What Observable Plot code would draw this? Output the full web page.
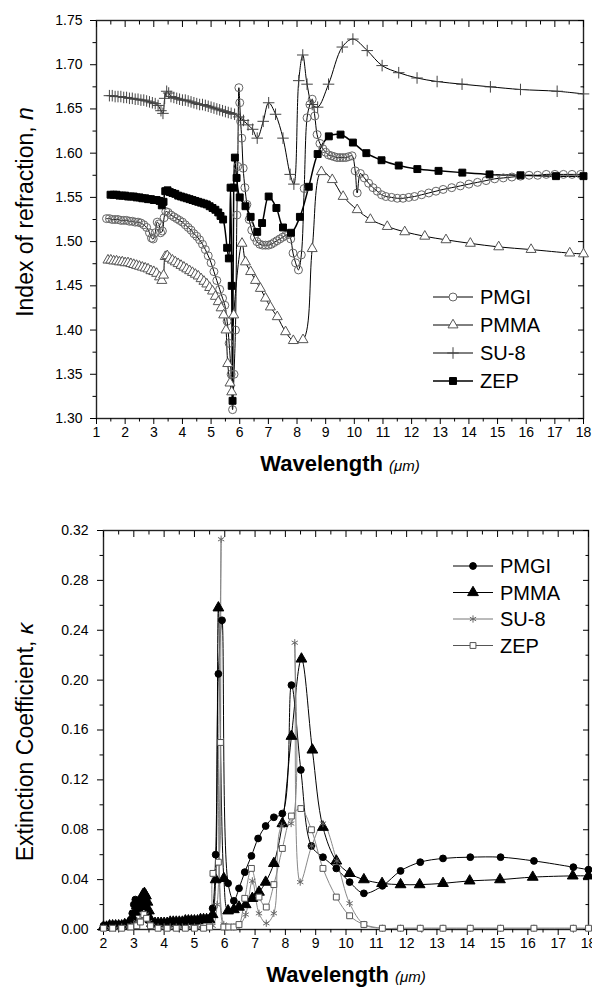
<!DOCTYPE html>
<html><head><meta charset="utf-8">
<script src="https://cdn.jsdelivr.net/npm/d3@7"></script>
<script src="https://cdn.jsdelivr.net/npm/@observablehq/plot@0.6"></script>
<style>
body{margin:0;background:#fff;}
#wrap{width:592px;}
#wrap svg{display:block;}
</style></head><body><div id="wrap"></div>
<script>
// ---------- TOP CHART: index of refraction n vs wavelength (um) ----------
const topPMGI = [[1.35,1.526],[1.45,1.526],[1.55,1.525],[1.65,1.525],[1.75,1.525],[1.85,1.524],[1.95,1.524],[2.05,1.524],[2.15,1.523],[2.25,1.523],[2.35,1.522],[2.45,1.522],[2.55,1.521],[2.65,1.519],[2.75,1.516],[2.85,1.510],[2.92,1.504],[2.98,1.503],[3.05,1.510],[3.12,1.522],[3.18,1.520],[3.24,1.510],[3.30,1.512],[3.36,1.527],[3.42,1.534],[3.50,1.533],[3.60,1.530],[3.70,1.528],[3.80,1.526],[3.90,1.524],[4.00,1.522],[4.10,1.519],[4.20,1.516],[4.30,1.513],[4.40,1.509],[4.50,1.506],[4.60,1.502],[4.70,1.497],[4.80,1.491],[4.90,1.484],[5.00,1.476],[5.10,1.466],[5.20,1.456],[5.30,1.446],[5.40,1.436],[5.48,1.428],[5.56,1.410],[5.63,1.385],[5.70,1.350],[5.75,1.310],[5.80,1.350],[5.85,1.400],[5.90,1.530],[5.93,1.585],[5.97,1.674],[6.00,1.657],[6.03,1.636],[6.07,1.617],[6.12,1.583],[6.18,1.561],[6.25,1.542],[6.33,1.525],[6.42,1.513],[6.51,1.505],[6.60,1.500],[6.70,1.497],[6.80,1.496],[6.90,1.496],[7.00,1.496],[7.10,1.497],[7.20,1.499],[7.30,1.501],[7.40,1.503],[7.50,1.505],[7.60,1.507],[7.70,1.508],[7.78,1.503],[7.86,1.487],[7.95,1.476],[8.05,1.468],[8.15,1.485],[8.25,1.560],[8.35,1.640],[8.45,1.655],[8.53,1.661],[8.62,1.642],[8.70,1.621],[8.80,1.611],[8.90,1.605],[9.00,1.601],[9.10,1.598],[9.20,1.597],[9.30,1.596],[9.40,1.595],[9.50,1.595],[9.60,1.595],[9.70,1.595],[9.80,1.596],[9.92,1.597],[10.03,1.580],[10.10,1.555],[10.21,1.577],[10.35,1.572],[10.50,1.566],[10.65,1.561],[10.80,1.557],[10.95,1.553],[11.10,1.551],[11.30,1.550],[11.50,1.549],[11.70,1.549],[11.90,1.550],[12.10,1.551],[12.35,1.553],[12.60,1.555],[12.85,1.557],[13.10,1.559],[13.40,1.561],[13.70,1.563],[14.00,1.565],[14.30,1.567],[14.60,1.569],[14.90,1.571],[15.20,1.572],[15.50,1.573],[15.80,1.574],[16.10,1.575],[16.40,1.575],[16.70,1.576],[17.00,1.576],[17.30,1.576],[17.60,1.576],[17.90,1.576]];

const topPMMA = [[1.40,1.479],[1.50,1.479],[1.60,1.478],[1.70,1.478],[1.80,1.477],[1.90,1.477],[2.00,1.476],[2.10,1.476],[2.20,1.475],[2.30,1.474],[2.40,1.473],[2.50,1.472],[2.60,1.471],[2.70,1.470],[2.80,1.469],[2.90,1.467],[3.00,1.466],[3.10,1.464],[3.20,1.460],[3.28,1.456],[3.34,1.462],[3.40,1.483],[3.47,1.484],[3.55,1.481],[3.65,1.479],[3.75,1.477],[3.85,1.475],[3.95,1.473],[4.05,1.471],[4.15,1.469],[4.25,1.467],[4.35,1.465],[4.45,1.463],[4.55,1.461],[4.65,1.458],[4.75,1.455],[4.85,1.452],[4.95,1.448],[5.05,1.444],[5.15,1.438],[5.25,1.432],[5.35,1.425],[5.44,1.417],[5.52,1.400],[5.58,1.362],[5.66,1.340],[5.72,1.330],[5.79,1.417],[6.08,1.498],[6.20,1.477],[6.38,1.466],[6.55,1.456],[6.72,1.447],[6.90,1.436],[7.07,1.426],[7.31,1.415],[7.60,1.398],[7.87,1.388],[8.21,1.389],[8.53,1.492],[8.85,1.579],[9.23,1.570],[9.61,1.551],[10.10,1.536],[10.56,1.525],[11.15,1.517],[11.76,1.511],[12.46,1.506],[13.20,1.502],[14.05,1.498],[15.04,1.494],[16.17,1.491],[17.52,1.487],[18.00,1.486]];

const topSU8 = [[1.45,1.665],[1.55,1.665],[1.65,1.664],[1.75,1.664],[1.85,1.664],[1.95,1.663],[2.05,1.663],[2.15,1.662],[2.25,1.662],[2.35,1.661],[2.45,1.661],[2.55,1.660],[2.65,1.660],[2.75,1.659],[2.85,1.658],[2.95,1.657],[3.05,1.656],[3.15,1.654],[3.25,1.648],[3.32,1.645],[3.38,1.662],[3.45,1.670],[3.52,1.668],[3.60,1.664],[3.70,1.663],[3.80,1.662],[3.90,1.661],[4.00,1.660],[4.10,1.660],[4.20,1.659],[4.30,1.658],[4.40,1.657],[4.50,1.656],[4.60,1.655],[4.70,1.655],[4.80,1.654],[4.90,1.653],[5.00,1.652],[5.10,1.651],[5.20,1.650],[5.30,1.649],[5.40,1.648],[5.50,1.647],[5.60,1.646],[5.70,1.645],[5.82,1.644],[5.97,1.641],[6.13,1.637],[6.29,1.632],[6.45,1.627],[6.61,1.617],[6.82,1.636],[7.01,1.657],[7.25,1.644],[7.51,1.617],[7.76,1.576],[7.89,1.565],[8.06,1.682],[8.20,1.711],[8.35,1.678],[8.53,1.655],[8.72,1.652],[9.10,1.678],[9.58,1.720],[9.95,1.729],[10.45,1.716],[10.97,1.699],[11.55,1.691],[12.19,1.685],[12.89,1.681],[13.76,1.678],[14.75,1.675],[15.80,1.672],[17.08,1.670],[18.00,1.667]];

const topZEP = [[1.49,1.553],[1.60,1.553],[1.70,1.553],[1.80,1.552],[1.90,1.552],[2.00,1.552],[2.10,1.551],[2.20,1.551],[2.30,1.551],[2.40,1.550],[2.50,1.550],[2.60,1.549],[2.70,1.549],[2.80,1.548],[2.90,1.548],[3.00,1.547],[3.10,1.547],[3.20,1.546],[3.28,1.541],[3.34,1.545],[3.40,1.557],[3.48,1.558],[3.56,1.556],[3.65,1.555],[3.75,1.554],[3.85,1.552],[3.95,1.551],[4.05,1.550],[4.15,1.549],[4.25,1.548],[4.35,1.547],[4.45,1.546],[4.55,1.545],[4.65,1.544],[4.75,1.543],[4.85,1.542],[4.95,1.540],[5.05,1.538],[5.15,1.536],[5.25,1.533],[5.33,1.529],[5.42,1.525],[5.56,1.493],[5.62,1.481],[5.68,1.561],[5.72,1.450],[5.75,1.320],[5.79,1.561],[5.83,1.595],[5.89,1.572],[6.00,1.550],[6.20,1.540],[6.38,1.528],[6.61,1.511],[6.78,1.521],[7.01,1.551],[7.28,1.538],[7.51,1.516],[7.79,1.510],[8.10,1.528],[8.41,1.562],[8.72,1.599],[9.11,1.619],[9.52,1.621],[9.95,1.612],[10.42,1.600],[10.95,1.592],[11.55,1.586],[12.20,1.582],[12.94,1.580],[13.77,1.578],[14.72,1.576],[15.80,1.575],[17.04,1.574],[18.00,1.574]];

const topXTicks = [1,2,3,4,5,6,7,8,9,10,11,12,13,14,15,16,17,18];
const topXMinor = [1.5,2.5,3.5,4.5,5.5,6.5,7.5,8.5,9.5,10.5,11.5,12.5,13.5,14.5,15.5,16.5,17.5];
const topYTicks = [1.30,1.35,1.40,1.45,1.50,1.55,1.60,1.65,1.70,1.75];
const topYMinor = [1.325,1.375,1.425,1.475,1.525,1.575,1.625,1.675,1.725];

// ---------- BOTTOM CHART: extinction coefficient kappa ----------
const botPMGI = [[2.0,0.003],[2.1,0.003],[2.2,0.003],[2.3,0.003],[2.4,0.004],[2.5,0.004],[2.6,0.004],[2.7,0.004],[2.8,0.005],[2.9,0.008],[2.95,0.013],[3.0,0.020],[3.05,0.024],[3.1,0.022],[3.15,0.019],[3.2,0.017],[3.25,0.018],[3.3,0.020],[3.35,0.021],[3.4,0.018],[3.45,0.012],[3.5,0.007],[3.6,0.005],[3.7,0.005],[3.8,0.005],[3.9,0.005],[4.0,0.005],[4.1,0.005],[4.2,0.005],[4.3,0.006],[4.4,0.006],[4.5,0.006],[4.6,0.006],[4.7,0.006],[4.8,0.007],[4.9,0.007],[5.0,0.007],[5.1,0.007],[5.2,0.008],[5.3,0.008],[5.4,0.008],[5.5,0.009],[5.6,0.017],[5.7,0.060],[5.79,0.205],[5.91,0.248],[6.11,0.037],[6.30,0.023],[6.47,0.033],[6.66,0.046],[6.88,0.059],[7.10,0.073],[7.35,0.083],[7.62,0.090],[7.90,0.093],[8.20,0.196],[8.51,0.128],[8.86,0.067],[9.24,0.058],[9.68,0.049],[10.12,0.038],[10.59,0.029],[11.20,0.035],[11.80,0.047],[12.45,0.054],[13.20,0.057],[14.10,0.058],[15.10,0.058],[16.20,0.055],[17.50,0.050],[18.00,0.048]];

const botPMMA = [[2.0,0.002],[2.1,0.002],[2.2,0.003],[2.3,0.003],[2.4,0.003],[2.5,0.003],[2.6,0.003],[2.7,0.004],[2.8,0.004],[2.9,0.005],[3.0,0.008],[3.05,0.014],[3.1,0.019],[3.15,0.020],[3.2,0.022],[3.25,0.025],[3.3,0.028],[3.35,0.029],[3.4,0.027],[3.45,0.022],[3.5,0.015],[3.55,0.008],[3.6,0.005],[3.7,0.005],[3.8,0.005],[3.9,0.005],[4.0,0.005],[4.1,0.005],[4.2,0.006],[4.3,0.006],[4.4,0.006],[4.5,0.006],[4.6,0.006],[4.7,0.007],[4.8,0.007],[4.9,0.007],[5.0,0.007],[5.1,0.007],[5.2,0.008],[5.3,0.008],[5.4,0.008],[5.5,0.008],[5.6,0.012],[5.7,0.040],[5.79,0.258],[5.97,0.041],[6.11,0.015],[6.30,0.016],[6.47,0.018],[6.69,0.020],[6.91,0.025],[7.13,0.030],[7.35,0.038],[7.62,0.053],[7.90,0.085],[8.20,0.155],[8.53,0.217],[8.89,0.144],[9.24,0.082],[9.68,0.055],[10.12,0.045],[10.59,0.040],[11.19,0.037],[11.80,0.036],[12.43,0.036],[13.20,0.037],[14.08,0.039],[15.08,0.040],[16.16,0.042],[17.48,0.043],[18.00,0.043]];

const botSU8 = [[2.0,0.001],[2.2,0.001],[2.4,0.001],[2.6,0.002],[2.8,0.002],[3.0,0.004],[3.1,0.006],[3.2,0.008],[3.3,0.010],[3.4,0.012],[3.5,0.006],[3.6,0.003],[3.8,0.002],[4.0,0.002],[4.2,0.002],[4.4,0.002],[4.6,0.002],[4.8,0.002],[5.0,0.002],[5.2,0.002],[5.4,0.002],[5.6,0.003],[5.75,0.020],[5.88,0.313],[5.97,0.004],[6.10,0.002],[6.30,0.002],[6.47,0.003],[6.69,0.012],[6.91,0.039],[7.13,0.013],[7.37,0.005],[7.62,0.013],[7.88,0.083],[8.19,0.085],[8.31,0.230],[8.49,0.038],[8.87,0.067],[9.24,0.085],[9.70,0.055],[10.12,0.021],[10.60,0.004],[11.20,0.001],[11.80,0.001],[12.45,0.001],[13.20,0.001],[14.10,0.001],[15.10,0.001],[16.20,0.001],[17.50,0.001],[18.00,0.001]];

const botZEP = [[2.0,0.001],[2.3,0.001],[2.6,0.001],[2.9,0.002],[3.1,0.003],[3.22,0.006],[3.33,0.012],[3.42,0.009],[3.55,0.003],[3.8,0.001],[4.1,0.001],[4.4,0.001],[4.7,0.001],[5.0,0.001],[5.3,0.001],[5.5,0.002],[5.61,0.045],[5.79,0.054],[5.86,0.150],[5.97,0.002],[6.13,0.002],[6.30,0.002],[6.47,0.004],[6.66,0.025],[6.88,0.049],[7.13,0.026],[7.37,0.018],[7.62,0.036],[7.90,0.065],[8.20,0.091],[8.51,0.097],[8.86,0.080],[9.24,0.049],[9.68,0.026],[10.12,0.011],[10.59,0.004],[11.20,0.001],[11.80,0.001],[12.45,0.001],[13.20,0.001],[14.10,0.001],[15.10,0.001],[16.20,0.001],[17.50,0.001],[18.00,0.001]];

const botXTicks = [2,3,4,5,6,7,8,9,10,11,12,13,14,15,16,17,18];
const botXMinor = [2.5,3.5,4.5,5.5,6.5,7.5,8.5,9.5,10.5,11.5,12.5,13.5,14.5,15.5,16.5,17.5];
const botYTicks = [0.00,0.04,0.08,0.12,0.16,0.20,0.24,0.28,0.32];
const botYMinor = [0.02,0.06,0.10,0.14,0.18,0.22,0.26,0.30];

const seriesNames = ["PMGI","PMMA","SU-8","ZEP"];

// ---------- helpers ----------
const FONT = '"Liberation Sans", Arial, Helvetica, sans-serif';
const rows = a => a.map(([x, y]) => ({x, y}));

function frameAxes(xMaj, xMin, yMaj, yMin, yFmt, padY) {
  return [
    Plot.frame({stroke: "#222", strokeWidth: 1.4}),
    Plot.axisX({ticks: xMaj, tickSize: 6, tickPadding: 3, tickFormat: d => String(d), label: null, fontSize: 14}),
    Plot.axisX({ticks: xMin, tickSize: 3.5, fill: "none", label: null}),
    Plot.axisX({anchor: "top", ticks: xMaj, tickSize: 6, dy: 6, fill: "none", label: null}),
    Plot.axisX({anchor: "top", ticks: xMin, tickSize: 3.5, dy: 3.5, fill: "none", label: null}),
    Plot.axisY({ticks: yMaj, tickSize: 6, tickPadding: padY, tickFormat: yFmt, label: null, fontSize: 14}),
    Plot.axisY({ticks: yMin, tickSize: 3.5, fill: "none", label: null}),
    Plot.axisY({anchor: "right", ticks: yMaj, tickSize: 6, dx: -6, fill: "none", label: null}),
    Plot.axisY({anchor: "right", ticks: yMin, tickSize: 3.5, dx: -3.5, fill: "none", label: null})
  ];
}

function addXTitle(svg, cx, baseY) {
  const t = d3.select(svg).append("text")
    .attr("x", cx).attr("y", baseY).attr("text-anchor", "middle")
    .attr("font-family", FONT).attr("fill", "#000");
  t.append("tspan").attr("font-weight", "bold").attr("font-size", 22).text("Wavelength ");
  t.append("tspan").attr("font-style", "italic").attr("font-size", 15).text("(μm)");
}
function addYTitle(svg, cx, cy, main, sym) {
  const t = d3.select(svg).append("text")
    .attr("transform", `translate(${cx},${cy}) rotate(-90)`)
    .attr("text-anchor", "middle").attr("dominant-baseline", "central")
    .attr("font-family", FONT).attr("font-size", 23).attr("fill", "#000");
  t.append("tspan").text(main);
  t.append("tspan").attr("font-style", "italic").text(sym);
}
function addLegend(svg, items, x0, y0, dy) {
  const g = d3.select(svg).append("g");
  items.forEach((it, i) => {
    const y = y0 + i * dy;
    g.append("line").attr("x1", x0).attr("x2", x0 + 40).attr("y1", y).attr("y2", y)
      .attr("stroke", it.line).attr("stroke-width", it.lw);
    g.append("path").attr("d", d3.symbol(it.sym, Math.PI * it.r * it.r)())
      .attr("transform", `translate(${x0 + 20},${y})`)
      .attr("fill", it.fill).attr("stroke", it.stroke).attr("stroke-width", 1);
    g.append("text").attr("x", x0 + 47).attr("y", y).attr("dy", "0.36em")
      .attr("text-anchor", "start")
      .attr("font-family", FONT).attr("font-size", 20).attr("fill", "#000").text(it.name);
  });
}

// ---------- top chart ----------
const topStyles = [
  {data: topPMGI, symbol: "circle", r: 4, fill: "none", stroke: "#666", line: "#000", lw: 1},
  {data: topPMMA, symbol: "triangle", r: 3.7, fill: "#fff", stroke: "#555", line: "#000", lw: 1},
  {data: topSU8, symbol: "plus", r: 3.8, fill: "none", stroke: "#444", line: "#000", lw: 1},
  {data: topZEP, symbol: "square", r: 3.9, fill: "#000", stroke: "#000", line: "#000", lw: 1.5}
];
const topMarks = [];
topStyles.forEach(s => topMarks.push(Plot.line(rows(s.data), {x: "x", y: "y", stroke: s.line, strokeWidth: s.lw, curve: "catmull-rom"})));
topStyles.forEach(s => topMarks.push(Plot.dot(rows(s.data), {x: "x", y: "y", symbol: s.symbol, r: s.r, fill: s.fill, stroke: s.stroke, strokeWidth: 1})));

const topPlot = Plot.plot({
  width: 592, height: 480, marginTop: 20, marginBottom: 62, marginLeft: 96, marginRight: 9,
  style: {fontFamily: FONT, fontSize: "14px", color: "#000", background: "#fff"},
  x: {domain: [1, 18], label: null},
  y: {domain: [1.30, 1.75], label: null},
  marks: [...frameAxes(topXTicks, topXMinor, topYTicks, topYMinor, d3.format(".2f"), 8), ...topMarks]
});
addXTitle(topPlot, 340, 471);
addYTitle(topPlot, 25, 212, "Index of refraction, ", "n");
addLegend(topPlot, [
  {name: seriesNames[0], sym: d3.symbolCircle, r: 4, fill: "#fff", stroke: "#666", line: "#000", lw: 1},
  {name: seriesNames[1], sym: d3.symbolTriangle, r: 3.7, fill: "#fff", stroke: "#555", line: "#000", lw: 1},
  {name: seriesNames[2], sym: d3.symbolPlus, r: 3.8, fill: "none", stroke: "#444", line: "#000", lw: 1},
  {name: seriesNames[3], sym: d3.symbolSquare, r: 3.9, fill: "#000", stroke: "#000", line: "#000", lw: 1.5}
], 433, 297, 28);
document.getElementById("wrap").appendChild(topPlot);

// ---------- bottom chart ----------
const botStyles = [
  {data: botPMGI, symbol: "circle", r: 3.4, fill: "#000", stroke: "#000", line: "#000", lw: 1},
  {data: botPMMA, symbol: "triangle", r: 4, fill: "#000", stroke: "#000", line: "#000", lw: 1},
  {data: botSU8, symbol: "asterisk", r: 3.4, fill: "none", stroke: "#666", line: "#888", lw: 1},
  {data: botZEP, symbol: "square", r: 3.3, fill: "#fff", stroke: "#555", line: "#888", lw: 1}
];
const botMarks = [];
botStyles.forEach(s => botMarks.push(Plot.line(rows(s.data), {x: "x", y: "y", stroke: s.line, strokeWidth: s.lw, curve: "catmull-rom"})));
botStyles.forEach(s => botMarks.push(Plot.dot(rows(s.data), {x: "x", y: "y", symbol: s.symbol, r: s.r, fill: s.fill, stroke: s.stroke, strokeWidth: 1})));

const botPlot = Plot.plot({
  width: 592, height: 508, marginTop: 50, marginBottom: 59, marginLeft: 103, marginRight: 4,
  style: {fontFamily: FONT, fontSize: "14px", color: "#000", background: "#fff"},
  x: {domain: [2, 18], label: null},
  y: {domain: [0, 0.32], label: null},
  marks: [...frameAxes(botXTicks, botXMinor, botYTicks, botYMinor, d3.format(".2f"), 9), ...botMarks]
});
addXTitle(botPlot, 346, 502);
addYTitle(botPlot, 25, 262, "Extinction Coefficient, ", "κ");
addLegend(botPlot, [
  {name: seriesNames[0], sym: d3.symbolCircle, r: 3.4, fill: "#000", stroke: "#000", line: "#000", lw: 1},
  {name: seriesNames[1], sym: d3.symbolTriangle, r: 4, fill: "#000", stroke: "#000", line: "#000", lw: 1},
  {name: seriesNames[2], sym: d3.symbolAsterisk, r: 3.4, fill: "none", stroke: "#666", line: "#777", lw: 1},
  {name: seriesNames[3], sym: d3.symbolSquare, r: 3.3, fill: "#fff", stroke: "#555", line: "#555", lw: 1}
], 453, 86, 26.5);
document.getElementById("wrap").appendChild(botPlot);
</script>
</body></html>
